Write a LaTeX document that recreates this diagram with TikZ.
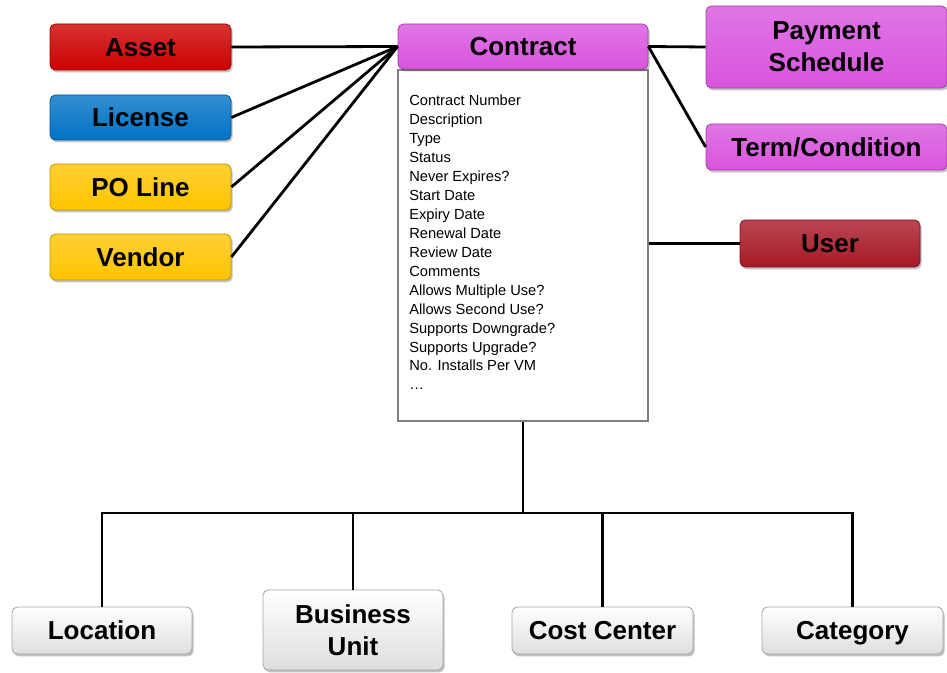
\documentclass[tikz,border=0pt]{standalone}
\usepackage{fontspec}
\setmainfont{Liberation Sans}
\usetikzlibrary{shadows,calc}
\definecolor{cred}{RGB}{204,0,0}
\definecolor{cblue}{RGB}{0,114,198}
\definecolor{cyellow}{RGB}{255,196,0}
\definecolor{cmag}{RGB}{216,84,222}
\definecolor{cuser}{RGB}{168,24,38}
\definecolor{cgray}{RGB}{222,222,222}
\newcommand\capstrut{\rule[-0.22em]{0pt}{1.156em}}
\begin{document}
\begin{tikzpicture}[x=0.75pt,y=-0.75pt,
  ent/.style={rounded corners=4pt, draw=#1!75!black, line width=0.6pt,
    top color=#1!80!white, bottom color=#1, align=center, inner sep=0pt,
    font=\fontsize{19.5}{24}\selectfont\bfseries,
    drop shadow={shadow xshift=1.2pt, shadow yshift=-1.8pt, opacity=0.35, fill=black!70}},
  gbox/.style={rounded corners=4pt, draw=black!35, line width=0.6pt,
    top color=white, bottom color=cgray, align=center, inner sep=0pt,
    font=\fontsize{19.5}{24}\selectfont\bfseries,
    drop shadow={shadow xshift=1.2pt, shadow yshift=-1.8pt, opacity=0.35, fill=black!70}},
  oneline/.style={execute at begin node=\capstrut},
  link/.style={line width=2.1pt, black},
  attrs/.style={align=left, inner sep=0pt, font=\fontsize{11}{14.2}\selectfont}
]
\useasboundingbox (0,0) rectangle (947,673);

% left entities
\node[ent=cred,    oneline, minimum width=135.75pt, minimum height=34.5pt] (asset)   at (140.5,47)   {Asset};
\node[ent=cblue,   oneline, minimum width=135.75pt, minimum height=33.75pt] (license) at (140.5,117.5) {License};
\node[ent=cyellow, oneline, minimum width=135.75pt, minimum height=34.5pt] (poline)  at (140.5,187)   {PO Line};
\node[ent=cyellow, oneline, minimum width=135.75pt, minimum height=34.5pt] (vendor)  at (140.5,257)   {Vendor};

% contract
\node[draw=black!50, line width=1.5pt, fill=white, minimum width=187.5pt, minimum height=263.25pt, anchor=north, inner sep=0pt] (body) at (523,69) {};
\node[ent=cmag, oneline, minimum width=187.5pt, minimum height=33.75pt] (contract) at (523,46.5) {Contract};
\node[attrs, anchor=north west] (list) at (409,95) {Contract Number\\Description\\Type\\Status\\Never Expires?\\Start Date\\Expiry Date\\Renewal Date\\Review Date\\Comments\\Allows Multiple Use?\\Allows Second Use?\\Supports Downgrade?\\Supports Upgrade?\\No. Installs Per VM\\\dots};

% right entities
\node[ent=cmag,  minimum width=180.75pt, minimum height=61.5pt] (pay)  at (826.5,47)  {Payment\\Schedule};
\node[ent=cmag,  oneline, minimum width=180.75pt, minimum height=34.5pt] (term) at (826.5,147) {Term/Condition};
\node[ent=cuser, oneline, minimum width=135pt,    minimum height=35.25pt] (user) at (830,243.5) {User};

% bottom entities
\node[gbox, oneline, minimum width=135pt,    minimum height=35.25pt] (loc)  at (102,630.5)   {Location};
\node[gbox,          minimum width=135pt,    minimum height=60pt]    (bu)   at (353,630)     {Business\\Unit};
\node[gbox, oneline, minimum width=135.75pt, minimum height=35.25pt] (cost) at (602.5,630.5) {Cost Center};
\node[gbox, oneline, minimum width=135.75pt, minimum height=35.25pt] (cat)  at (852.5,630.5) {Category};

% connectors
\draw[link] (asset.east)   -- (contract.west);
\draw[link] (license.east) -- (contract.west);
\draw[link] (poline.east)  -- (contract.west);
\draw[link] (vendor.east)  -- (contract.west);
\draw[link] (contract.east) -- (pay.west);
\draw[link] (contract.east) -- (term.west);
\draw[link] (user.west) -- (user.west -| body.east);
\coordinate (j) at (523,513);
\draw[link] (body.south) -- (j);
\draw[link] (j) -| (loc.north);
\draw[link] (j) -| (bu.north);
\draw[link] (j) -| (cost.north);
\draw[link] (j) -| (cat.north);
\end{tikzpicture}
\end{document}
